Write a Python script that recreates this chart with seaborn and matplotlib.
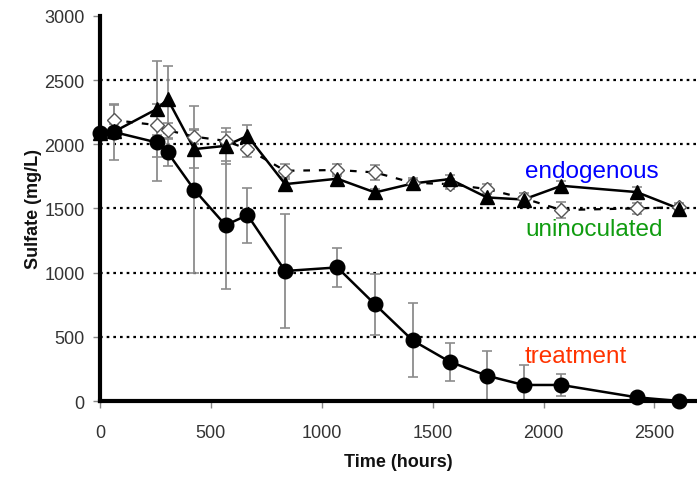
import numpy as np
import pandas as pd
import matplotlib
matplotlib.use("Agg")
import matplotlib.pyplot as plt
import seaborn as sns

# Sampling times (hours)
hours = [0, 65, 255, 305, 425, 566, 665, 835, 1070, 1240, 1410, 1577, 1745, 1910, 2080, 2420, 2612]

# Sulfate concentration (mg/L) and standard deviations
treatment = [2085, 2095, 2015, 1937, 1646, 1370, 1449, 1013, 1041, 753, 472, 306, 197, 125, 125, 29, 0]
treatment_sd = [0, 218, 300, 105, 650, 500, 214, 441, 150, 240, 288, 147, 195, 157, 87, 0, 0]

endogenous = [2090, 2100, 2274, 2352, 1963, 1988, 2066, 1690, 1732, 1625, 1695, 1729, 1586, 1570, 1677, 1628, 1498]
endogenous_sd = [0, 60, 372, 260, 150, 140, 85, 40, 40, 30, 30, 30, 30, 30, 40, 40, 30]

uninoculated = [2090, 2188, 2150, 2110, 2060, 2027, 1963, 1794, 1800, 1781, 1700, 1690, 1651, 1580, 1488, 1501, 1510]
uninoculated_sd = [0, 120, 80, 60, 60, 70, 60, 50, 50, 60, 40, 40, 40, 40, 60, 40, 30]

series_names = ["treatment", "endogenous", "uninoculated"]
label_colors = {"treatment": "#ff3300", "endogenous": "#0000ff", "uninoculated": "#109c10"}

df = pd.DataFrame({
    "hours": hours * 3,
    "sulfate": treatment + endogenous + uninoculated,
    "sd": treatment_sd + endogenous_sd + uninoculated_sd,
    "series": [s for s in series_names for _ in hours],
})

sns.set_theme(style="white")
plt.rcParams["font.family"] = ["Liberation Sans", "DejaVu Sans"]

fig = plt.figure(figsize=(6.97, 4.81), dpi=100)
ax = fig.add_axes([0.1435, 0.1642, 0.8565, 0.8005])

# dotted horizontal gridlines
for yv in [500, 1000, 1500, 2000, 2500]:
    ax.axhline(yv, color="black", linestyle=(0, (1.2, 1.8)), linewidth=1.6, zorder=0)

styles = {
    "uninoculated": dict(marker="D", ms=7.5, mfc="white", mec="#555555", mew=1.0,
                         ls=(0, (3, 4)), lw=1.6, color="black"),
    "endogenous": dict(marker="^", ms=9.5, mfc="black", mec="black", mew=1.0,
                       ls="-", lw=1.8, color="black"),
    "treatment": dict(marker="o", ms=10.5, mfc="black", mec="black", mew=1.0,
                      ls="-", lw=1.8, color="black"),
}

for name in ["uninoculated", "endogenous", "treatment"]:
    sub = df[df["series"] == name]
    ax.errorbar(sub["hours"], sub["sulfate"], yerr=sub["sd"], fmt="none",
                ecolor="#8c8c8c", elinewidth=1.3, capsize=3.5, capthick=1.2, zorder=2)
    st = styles[name]
    sns.lineplot(data=sub, x="hours", y="sulfate", ax=ax, color=st["color"],
                 linewidth=st["lw"], linestyle=st["ls"], legend=False, zorder=3,
                 errorbar=None, sort=False)
    ax.plot(sub["hours"], sub["sulfate"], linestyle="none", marker=st["marker"],
            markersize=st["ms"], markerfacecolor=st["mfc"], markeredgecolor=st["mec"],
            markeredgewidth=st["mew"], zorder=4, clip_on=False)

ax.text(1916, 1791, "endogenous", color=label_colors["endogenous"], fontsize=17.5, va="center", ha="left")
ax.text(1916, 1340, "uninoculated", color=label_colors["uninoculated"], fontsize=17.5, va="center", ha="left")
ax.text(1916, 353, "treatment", color=label_colors["treatment"], fontsize=17.5, va="center", ha="left")

ax.set_xlim(0, 2692)
ax.set_ylim(0, 3000)
ax.set_xticks([0, 500, 1000, 1500, 2000, 2500])
ax.set_yticks([0, 500, 1000, 1500, 2000, 2500, 3000])

for side in ["top", "right"]:
    ax.spines[side].set_visible(False)
for side in ["left", "bottom"]:
    ax.spines[side].set_color("black")
    ax.spines[side].set_linewidth(3)

ax.tick_params(axis="both", direction="out", length=5, width=1, color="#888888",
               labelsize=13, labelcolor="#333333", left=True, bottom=True)
ax.tick_params(axis="x", pad=11.5)
ax.tick_params(axis="y", pad=6)

ax.set_xlabel("Time (hours)", fontsize=13, fontweight="bold", color="#111111", labelpad=9)
ax.set_ylabel("Sulfate (mg/L)", fontsize=13, fontweight="bold", color="#111111", labelpad=2)

fig.savefig("out.png", dpi=100)
